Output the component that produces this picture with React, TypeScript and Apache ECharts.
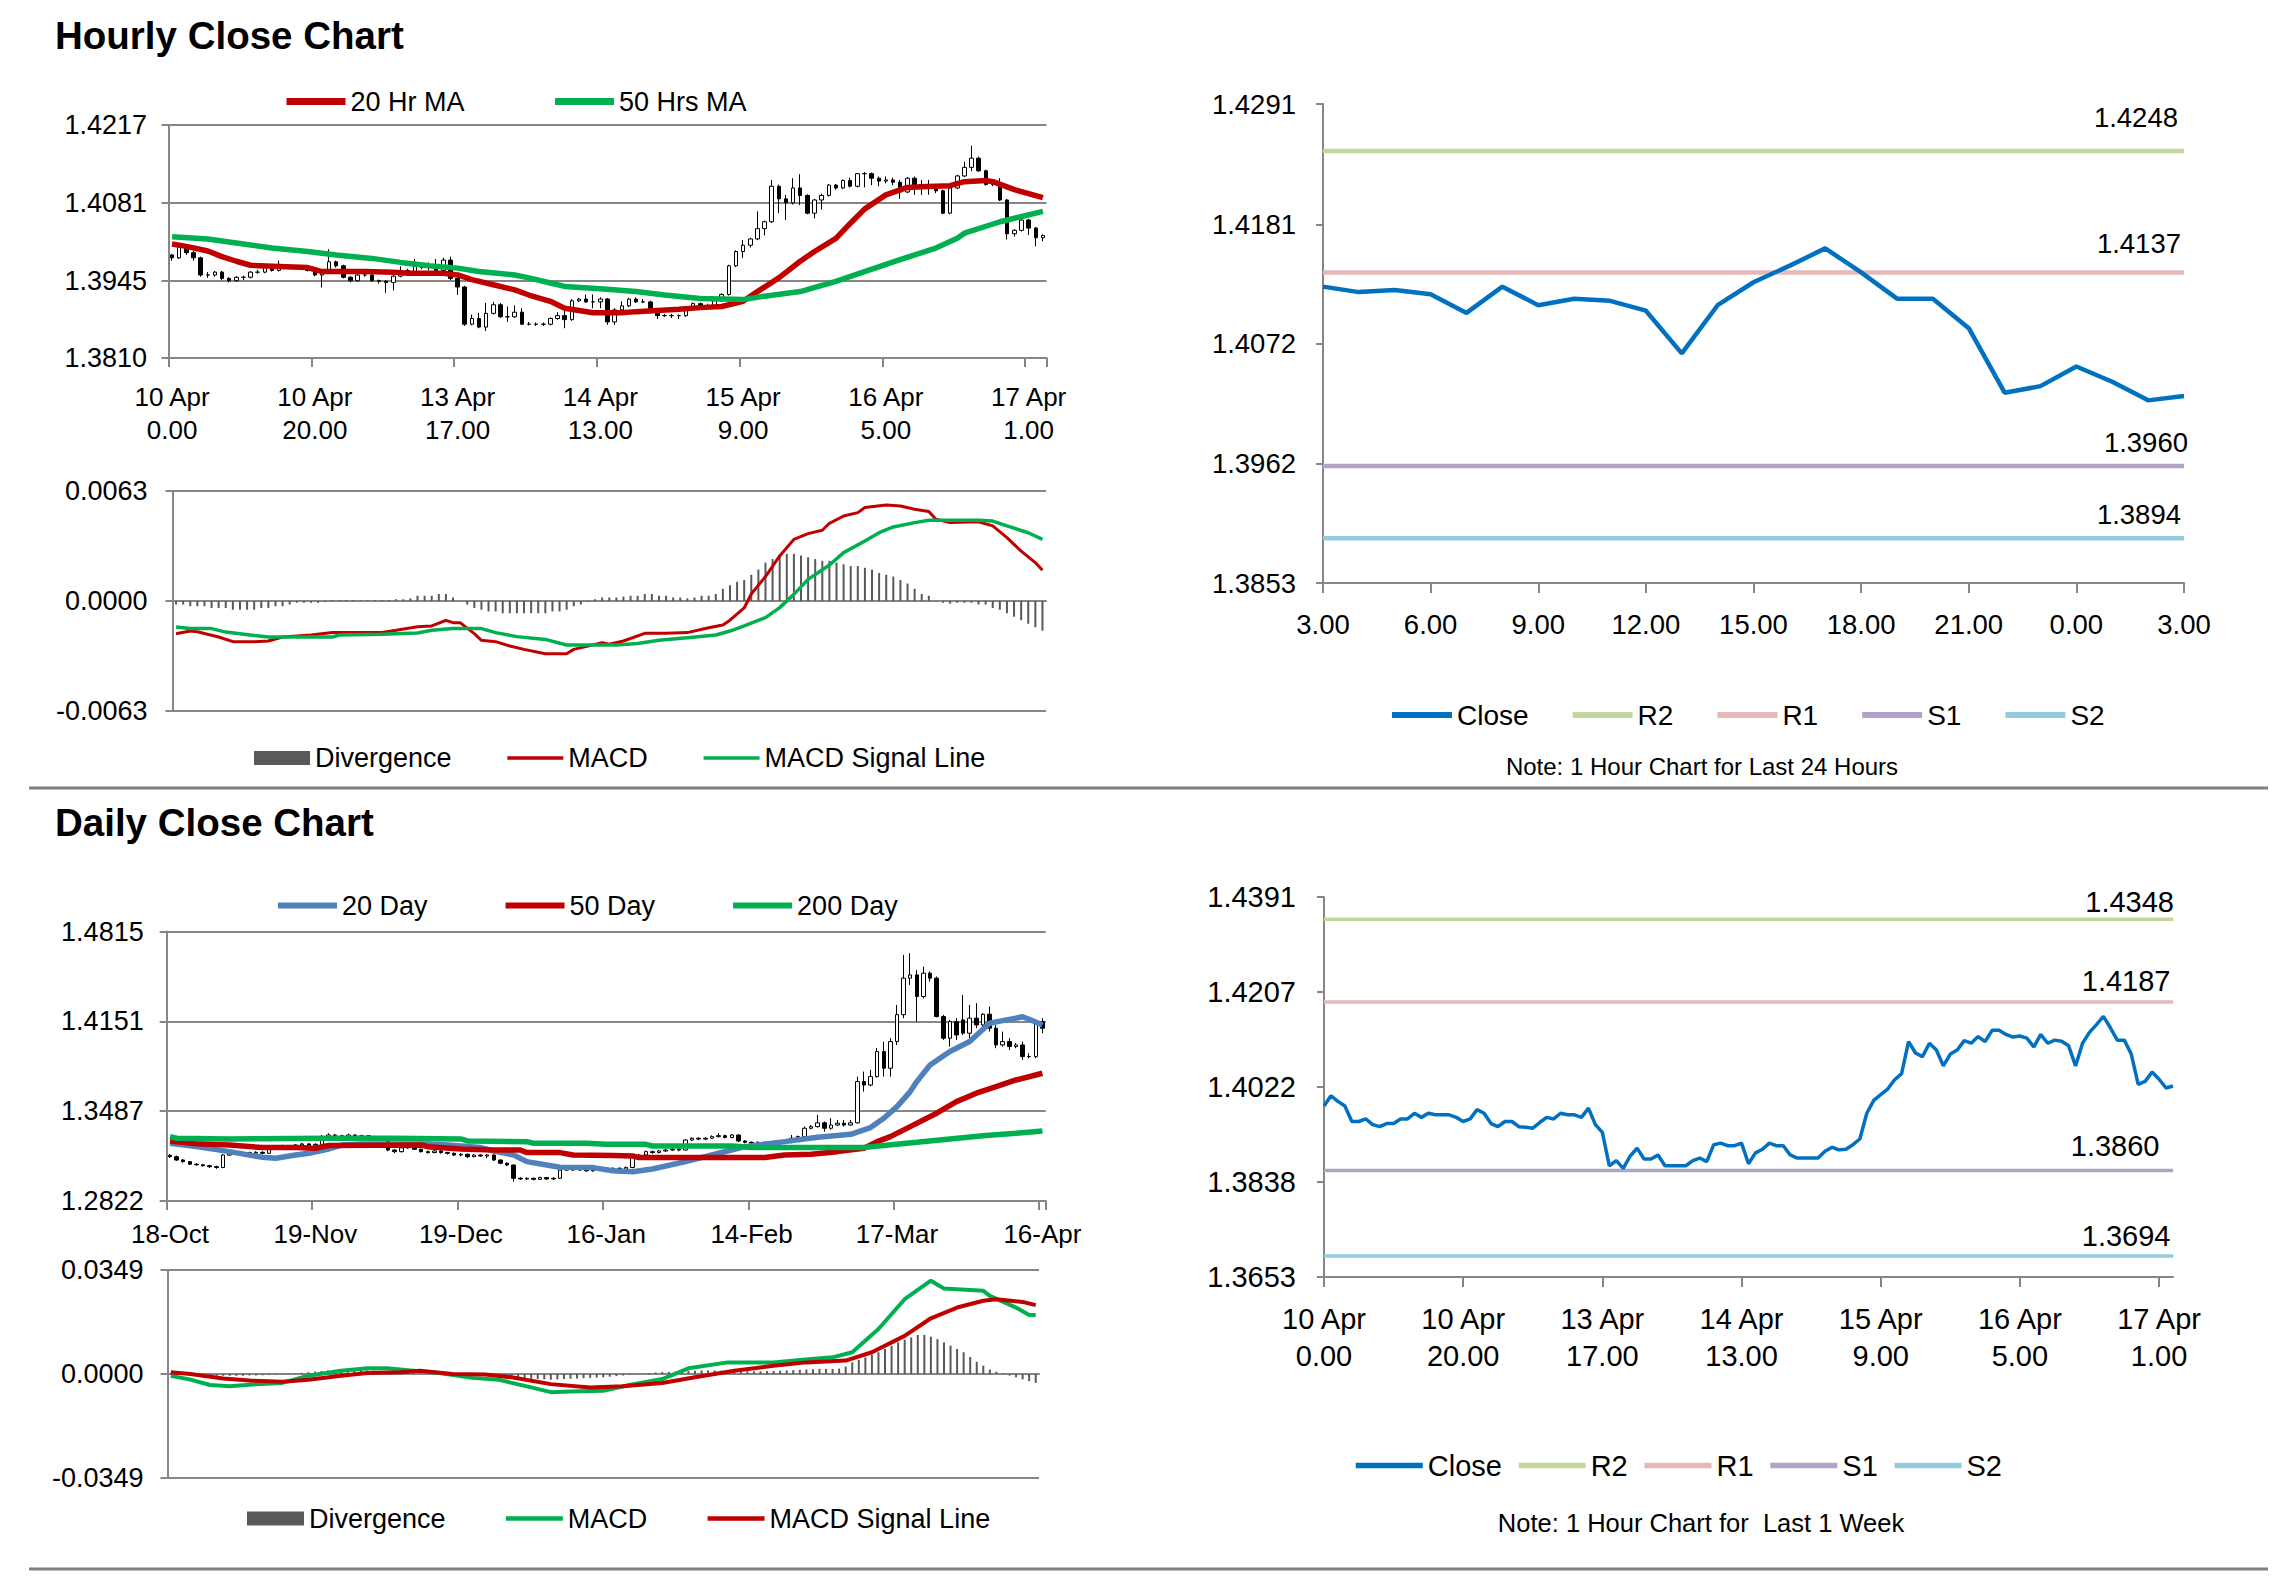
import React, { useEffect, useRef } from 'react';
import * as echarts from 'echarts';

const W = 2291;
const H = 1577;
const FONT = '"Liberation Sans", Arial, Helvetica, sans-serif';
const GRAY = '#868686';

// ---------------- Hourly data (10 Apr 0.00 .. 17 Apr 3.00) ----------------
const HOURLY_TICK_LABELS = ['10 Apr\n0.00', '10 Apr\n20.00', '13 Apr\n17.00', '14 Apr\n13.00', '15 Apr\n9.00', '16 Apr\n5.00', '17 Apr\n1.00'];

const HOURLY_CLOSE = [
  1.3985, 1.4005, 1.3994, 1.3985, 1.3955, 1.3955, 1.3960, 1.3949, 1.3945, 1.3951,
  1.3951, 1.3960, 1.3960, 1.3971, 1.3963, 1.3971, 1.3968, 1.3968, 1.3968, 1.3963,
  1.3955, 1.3960, 1.3978, 1.3971, 1.3951, 1.3945, 1.3955, 1.3955, 1.3945, 1.3944,
  1.3942, 1.3953, 1.3963, 1.3960, 1.3971, 1.3968, 1.3968, 1.3963, 1.3981, 1.3949,
  1.3934, 1.3869, 1.3879, 1.3864, 1.3888, 1.3903, 1.3882, 1.3882, 1.3890, 1.3869,
  1.3869, 1.3869, 1.3869, 1.3879, 1.3884, 1.3877, 1.3910, 1.3913, 1.3908, 1.3908,
  1.3913, 1.3873, 1.3894, 1.3901, 1.3913, 1.3908, 1.3908, 1.3890, 1.3884, 1.3884,
  1.3884, 1.3884, 1.3897, 1.3905, 1.3900, 1.3901, 1.3910, 1.3921, 1.3971, 1.3996,
  1.4007, 1.4018, 1.4036, 1.4048, 1.4110, 1.4088, 1.4081, 1.4107, 1.4094, 1.4063,
  1.4086, 1.4094, 1.4112, 1.4107, 1.4120, 1.4110, 1.4132, 1.4132, 1.4124, 1.4119,
  1.4121, 1.4117, 1.4100, 1.4124, 1.4107, 1.4113, 1.4111, 1.4102, 1.4063, 1.4107,
  1.4128, 1.4143, 1.4159, 1.4137, 1.4113, 1.4113, 1.4086, 1.4027, 1.4033, 1.4051,
  1.4037, 1.4020, 1.4024,
];

const HOURLY_OPEN = [
  1.3990, 1.3985, 1.4005, 1.3994, 1.3985, 1.3955, 1.3955, 1.3960, 1.3949, 1.3945,
  1.3951, 1.3951, 1.3960, 1.3960, 1.3971, 1.3963, 1.3971, 1.3968, 1.3968, 1.3968,
  1.3963, 1.3955, 1.3960, 1.3978, 1.3971, 1.3951, 1.3945, 1.3955, 1.3955, 1.3945,
  1.3944, 1.3942, 1.3953, 1.3963, 1.3960, 1.3971, 1.3968, 1.3968, 1.3963, 1.3981,
  1.3949, 1.3934, 1.3869, 1.3879, 1.3864, 1.3888, 1.3903, 1.3882, 1.3882, 1.3890,
  1.3869, 1.3869, 1.3869, 1.3869, 1.3879, 1.3884, 1.3877, 1.3910, 1.3913, 1.3908,
  1.3908, 1.3913, 1.3873, 1.3894, 1.3901, 1.3913, 1.3908, 1.3908, 1.3890, 1.3884,
  1.3884, 1.3884, 1.3884, 1.3897, 1.3905, 1.3900, 1.3901, 1.3910, 1.3921, 1.3971,
  1.3996, 1.4007, 1.4018, 1.4036, 1.4048, 1.4110, 1.4088, 1.4081, 1.4107, 1.4094,
  1.4063, 1.4086, 1.4094, 1.4112, 1.4107, 1.4120, 1.4110, 1.4132, 1.4132, 1.4124,
  1.4119, 1.4121, 1.4117, 1.4100, 1.4124, 1.4107, 1.4113, 1.4111, 1.4102, 1.4063,
  1.4107, 1.4128, 1.4143, 1.4159, 1.4137, 1.4113, 1.4113, 1.4086, 1.4027, 1.4033,
  1.4051, 1.4037, 1.4020,
];

const HOURLY_HIGH = [
  1.3992, 1.4008, 1.4008, 1.3997, 1.3987, 1.3960, 1.3962, 1.3962, 1.3951, 1.3953,
  1.3954, 1.3962, 1.3964, 1.3973, 1.3974, 1.3980, 1.3973, 1.3971, 1.3970, 1.3970,
  1.3965, 1.3962, 1.4000, 1.3980, 1.3973, 1.3953, 1.3957, 1.3958, 1.3957, 1.3947,
  1.3946, 1.3955, 1.3970, 1.3966, 1.3983, 1.3974, 1.3977, 1.3983, 1.3985, 1.3987,
  1.3951, 1.3936, 1.3886, 1.3889, 1.3906, 1.3908, 1.3906, 1.3900, 1.3902, 1.3897,
  1.3873, 1.3872, 1.3872, 1.3881, 1.3890, 1.3898, 1.3913, 1.3915, 1.3921, 1.3921,
  1.3916, 1.3915, 1.3897, 1.3909, 1.3915, 1.3916, 1.3913, 1.3910, 1.3892, 1.3887,
  1.3887, 1.3886, 1.3899, 1.3907, 1.3907, 1.3905, 1.3912, 1.3923, 1.3973, 1.3998,
  1.4016, 1.4020, 1.4066, 1.4050, 1.4121, 1.4113, 1.4095, 1.4124, 1.4131, 1.4096,
  1.4088, 1.4097, 1.4114, 1.4114, 1.4122, 1.4125, 1.4133, 1.4135, 1.4134, 1.4127,
  1.4127, 1.4125, 1.4121, 1.4126, 1.4127, 1.4121, 1.4121, 1.4112, 1.4104, 1.4109,
  1.4130, 1.4153, 1.4181, 1.4162, 1.4139, 1.4116, 1.4124, 1.4088, 1.4035, 1.4053,
  1.4053, 1.4039, 1.4026,
];

const HOURLY_LOW = [
  1.3980, 1.3983, 1.3990, 1.3980, 1.3952, 1.3950, 1.3952, 1.3946, 1.3942, 1.3943,
  1.3946, 1.3949, 1.3957, 1.3958, 1.3961, 1.3961, 1.3966, 1.3965, 1.3965, 1.3961,
  1.3953, 1.3933, 1.3958, 1.3968, 1.3949, 1.3942, 1.3943, 1.3952, 1.3943, 1.3940,
  1.3924, 1.3928, 1.3951, 1.3958, 1.3958, 1.3965, 1.3963, 1.3961, 1.3961, 1.3946,
  1.3920, 1.3866, 1.3867, 1.3862, 1.3857, 1.3886, 1.3880, 1.3873, 1.3880, 1.3868,
  1.3867, 1.3866, 1.3866, 1.3867, 1.3877, 1.3862, 1.3875, 1.3908, 1.3906, 1.3897,
  1.3897, 1.3868, 1.3868, 1.3892, 1.3899, 1.3906, 1.3906, 1.3888, 1.3878, 1.3882,
  1.3880, 1.3878, 1.3882, 1.3895, 1.3898, 1.3898, 1.3899, 1.3908, 1.3919, 1.3969,
  1.3985, 1.4003, 1.4016, 1.4024, 1.4046, 1.4063, 1.4051, 1.4078, 1.4077, 1.4061,
  1.4054, 1.4069, 1.4092, 1.4104, 1.4105, 1.4108, 1.4108, 1.4108, 1.4112, 1.4110,
  1.4115, 1.4112, 1.4088, 1.4098, 1.4095, 1.4095, 1.4095, 1.4098, 1.4061, 1.4061,
  1.4105, 1.4126, 1.4136, 1.4135, 1.4111, 1.4110, 1.4084, 1.4017, 1.4022, 1.4031,
  1.4025, 1.4005, 1.4014,
];

// [hour index, value]
const MA20_H = [[0, 1.4009], [2, 1.4005], [5, 1.3997], [7, 1.3987], [9, 1.3979], [11, 1.3972], [15, 1.3970], [19, 1.3968], [21, 1.3961], [27, 1.3961], [31, 1.3960], [33, 1.3958], [38, 1.3958], [40, 1.3955], [42, 1.3947], [45, 1.3938], [48, 1.3929], [50, 1.3920], [53, 1.3909], [55, 1.3897], [59, 1.3889], [63, 1.3889], [65, 1.3891], [71, 1.3895], [74, 1.3898], [77, 1.3900], [80, 1.3909], [82, 1.3926], [85, 1.3950], [88, 1.3979], [90, 1.3996], [93, 1.4019], [95, 1.4045], [97, 1.4070], [100, 1.4095], [103, 1.4108], [105, 1.4109], [109, 1.4111], [111, 1.4118], [114, 1.4120], [115, 1.4118], [118, 1.4104], [122, 1.4090]];
const MA50_H = [[0, 1.4022], [5, 1.4018], [9, 1.4011], [14, 1.4002], [19, 1.3996], [23, 1.3990], [28, 1.3984], [32, 1.3977], [36, 1.3971], [40, 1.3967], [43, 1.3961], [48, 1.3955], [50, 1.3950], [53, 1.3941], [55, 1.3935], [60, 1.3931], [65, 1.3926], [69, 1.3920], [74, 1.3914], [80, 1.3912], [83, 1.3918], [88, 1.3926], [93, 1.3944], [97, 1.3961], [102, 1.3982], [107, 1.4002], [110, 1.4019], [111, 1.4028], [116, 1.4048], [122, 1.4066]];

const MACD_H = [[0, -0.00187], [2, -0.00172], [3, -0.00176], [6, -0.00206], [8, -0.00233], [11, -0.00233], [13, -0.00229], [15, -0.00206], [19, -0.00195], [22, -0.00181], [29, -0.00181], [31, -0.00168], [34, -0.00147], [36, -0.00143], [38, -0.00111], [39, -0.00124], [40, -0.00124], [42, -0.00187], [43, -0.00225], [45, -0.00233], [47, -0.00258], [49, -0.00277], [52, -0.00302], [55, -0.00302], [56, -0.00277], [60, -0.00239], [61, -0.00248], [63, -0.00229], [66, -0.00185], [69, -0.00185], [72, -0.00181], [75, -0.00153], [77, -0.00137], [78, -0.0011], [80, -0.0004], [81, 0.0004], [83, 0.0014], [85, 0.00258], [87, 0.00353], [89, 0.00386], [91, 0.00405], [92, 0.00445], [94, 0.00487], [96, 0.00506], [97, 0.00535], [100, 0.0055], [102, 0.00544], [104, 0.00525], [106, 0.00512], [107, 0.00468], [109, 0.00449], [113, 0.00454], [115, 0.0043], [117, 0.00363], [119, 0.00286], [121, 0.0022], [122, 0.00176]];
const SIGNAL_H = [[0, -0.00149], [2, -0.00157], [5, -0.00158], [7, -0.00178], [11, -0.00197], [13, -0.00206], [22, -0.00206], [23, -0.00195], [29, -0.00191], [34, -0.00183], [36, -0.00168], [39, -0.00158], [43, -0.00158], [45, -0.00181], [48, -0.00204], [52, -0.0022], [55, -0.00252], [62, -0.00252], [65, -0.00244], [68, -0.00225], [72, -0.0021], [76, -0.00195], [78, -0.00172], [80, -0.00143], [83, -0.00095], [85, -0.00038], [87, 0.00038], [89, 0.00124], [92, 0.00206], [94, 0.00277], [97, 0.00344], [99, 0.00391], [101, 0.00424], [104, 0.00449], [106, 0.00462], [113, 0.00462], [115, 0.00458], [117, 0.0043], [120, 0.00391], [122, 0.00353]];
const DIV_H = [
  -0.0002, -0.0002, -0.0003, -0.0003, -0.0003, -0.0004, -0.0004, -0.0004, -0.0005, -0.0005,
  -0.0005, -0.0005, -0.0004, -0.0004, -0.0003, -0.0003, -0.0002, -0.0001, -0.0001, -0.0001,
  -0.0001, -0.00005, 0.00005, 0.00005, 0.00005, 0.00005, 0.00005, 0.00005, 0.00005, 0.00005,
  0.00005, 0.0001, 0.0001, 0.00015, 0.0003, 0.0003, 0.0003, 0.0004, 0.0004, 0.0002,
  0.0000, -0.0002, -0.0004, -0.0005, -0.0006, -0.0006, -0.0007, -0.0007, -0.0007, -0.0007,
  -0.0007, -0.0007, -0.0007, -0.0006, -0.0006, -0.0005, -0.0003, -0.0002, -0.00005, 0.0001,
  0.0002, 0.0002, 0.0002, 0.00025, 0.0003, 0.0003, 0.0004, 0.0004, 0.0003, 0.0003,
  0.0002, 0.0002, 0.00015, 0.0002, 0.0003, 0.0003, 0.0004, 0.0007, 0.0009, 0.0011,
  0.0012, 0.0015, 0.0018, 0.0022, 0.0024, 0.0026, 0.0027, 0.0027, 0.0026, 0.0025,
  0.0024, 0.0023, 0.0023, 0.0022, 0.0021, 0.0020, 0.0020, 0.0019, 0.0018, 0.0016,
  0.0015, 0.0014, 0.0012, 0.0010, 0.0007, 0.0004, 0.0003, -0.00003, -0.0001, -0.00015,
  -0.0001, -0.0001, -0.0001, -0.0002, -0.0002, -0.0004, -0.0005, -0.0007, -0.0009, -0.0011,
  -0.0013, -0.0015, -0.0017,
];

// last 24 hours start at hour index 98 (16 Apr 3.00)
const START_24H = 98;
const TICKS_24H = ['3.00', '6.00', '9.00', '12.00', '15.00', '18.00', '21.00', '0.00', '3.00'];

const LEVEL_NAMES = ['R2', 'R1', 'S1', 'S2'];
const LEVELS_24H = [1.4248, 1.4137, 1.3960, 1.3894];
const LEVELS_WEEK = [1.4348, 1.4187, 1.3860, 1.3694];

// ---------------- Daily data (18-Oct .. 16-Apr) ----------------
const DAILY_TICK_LABELS = ['18-Oct', '19-Nov', '19-Dec', '16-Jan', '14-Feb', '17-Mar', '16-Apr'];

const DAILY_CLOSE = [
  1.3150, 1.3125, 1.3113, 1.3094, 1.3090, 1.3083, 1.3076, 1.3070, 1.3162, 1.3175,
  1.3170, 1.3180, 1.3175, 1.3182, 1.3175, 1.3212, 1.3224, 1.3230, 1.3224, 1.3236,
  1.3244, 1.3236, 1.3241, 1.3298, 1.3310, 1.3305, 1.3298, 1.3310, 1.3298, 1.3305,
  1.3292, 1.3298, 1.3286, 1.3199, 1.3187, 1.3215, 1.3224, 1.3205, 1.3187, 1.3180,
  1.3192, 1.3180, 1.3175, 1.3162, 1.3168, 1.3150, 1.3162, 1.3155, 1.3162, 1.3125,
  1.3101, 1.3088, 1.2990, 1.2985, 1.2990, 1.2982, 1.2995, 1.2985, 1.2990, 1.3051,
  1.3058, 1.3051, 1.3058, 1.3045, 1.3051, 1.3064, 1.3058, 1.3064, 1.3058, 1.3070,
  1.3150, 1.3162, 1.3187, 1.3180, 1.3192, 1.3199, 1.3205, 1.3199, 1.3273, 1.3286,
  1.3280, 1.3286, 1.3298, 1.3305, 1.3292, 1.3310, 1.3266, 1.3256, 1.3249, 1.3256,
  1.3249, 1.3256, 1.3261, 1.3256, 1.3286, 1.3298, 1.3360, 1.3372, 1.3400, 1.3360,
  1.3384, 1.3397, 1.3384, 1.3400, 1.3705, 1.3680, 1.3742, 1.3927, 1.3804, 1.4001,
  1.4200, 1.4470, 1.4494, 1.4334, 1.4507, 1.4470, 1.4186, 1.4026, 1.4149, 1.4050,
  1.4063, 1.4174, 1.4124, 1.4203, 1.4100, 1.3976, 1.4001, 1.3964, 1.3976, 1.3890,
  1.3890, 1.4149, 1.4100,
];

const DAILY_OPEN = [
  1.3160, 1.3150, 1.3125, 1.3113, 1.3094, 1.3090, 1.3083, 1.3076, 1.3070, 1.3162,
  1.3175, 1.3170, 1.3180, 1.3175, 1.3182, 1.3175, 1.3212, 1.3224, 1.3230, 1.3224,
  1.3236, 1.3244, 1.3236, 1.3241, 1.3298, 1.3310, 1.3305, 1.3298, 1.3310, 1.3298,
  1.3305, 1.3292, 1.3298, 1.3286, 1.3199, 1.3187, 1.3215, 1.3224, 1.3205, 1.3187,
  1.3180, 1.3192, 1.3180, 1.3175, 1.3162, 1.3168, 1.3150, 1.3162, 1.3155, 1.3162,
  1.3125, 1.3101, 1.3088, 1.2990, 1.2985, 1.2990, 1.2982, 1.2995, 1.2985, 1.2990,
  1.3051, 1.3058, 1.3051, 1.3058, 1.3045, 1.3051, 1.3064, 1.3058, 1.3064, 1.3058,
  1.3070, 1.3150, 1.3162, 1.3187, 1.3180, 1.3192, 1.3199, 1.3205, 1.3199, 1.3273,
  1.3286, 1.3280, 1.3286, 1.3298, 1.3305, 1.3292, 1.3310, 1.3266, 1.3256, 1.3249,
  1.3256, 1.3249, 1.3256, 1.3261, 1.3256, 1.3286, 1.3298, 1.3360, 1.3372, 1.3400,
  1.3360, 1.3384, 1.3397, 1.3384, 1.3400, 1.3705, 1.3680, 1.3742, 1.3927, 1.3804,
  1.4001, 1.4200, 1.4470, 1.4494, 1.4334, 1.4507, 1.4470, 1.4186, 1.4026, 1.4149,
  1.4161, 1.4063, 1.4174, 1.4124, 1.4203, 1.4100, 1.3976, 1.4001, 1.3964, 1.3976,
  1.3890, 1.3890, 1.4149,
];

const DAILY_HIGH = [
  1.3170, 1.3158, 1.3132, 1.3118, 1.3101, 1.3096, 1.3090, 1.3083, 1.3170, 1.3182,
  1.3182, 1.3187, 1.3187, 1.3190, 1.3190, 1.3218, 1.3230, 1.3238, 1.3236, 1.3244,
  1.3252, 1.3250, 1.3249, 1.3310, 1.3323, 1.3318, 1.3312, 1.3320, 1.3315, 1.3312,
  1.3310, 1.3305, 1.3302, 1.3290, 1.3205, 1.3222, 1.3232, 1.3230, 1.3210, 1.3195,
  1.3199, 1.3198, 1.3186, 1.3180, 1.3175, 1.3172, 1.3168, 1.3168, 1.3170, 1.3168,
  1.3130, 1.3108, 1.3092, 1.2998, 1.2996, 1.2995, 1.3002, 1.3000, 1.2998, 1.3058,
  1.3066, 1.3064, 1.3066, 1.3064, 1.3058, 1.3070, 1.3070, 1.3071, 1.3070, 1.3077,
  1.3162, 1.3170, 1.3195, 1.3195, 1.3199, 1.3207, 1.3212, 1.3212, 1.3280, 1.3293,
  1.3292, 1.3294, 1.3308, 1.3323, 1.3312, 1.3318, 1.3314, 1.3272, 1.3262, 1.3263,
  1.3262, 1.3264, 1.3270, 1.3268, 1.3310, 1.3305, 1.3372, 1.3384, 1.3458, 1.3410,
  1.3434, 1.3421, 1.3421, 1.3421, 1.3742, 1.3779, 1.3791, 1.3952, 1.4001, 1.4026,
  1.4272, 1.4642, 1.4655, 1.4530, 1.4556, 1.4519, 1.4482, 1.4198, 1.4161, 1.4174,
  1.4346, 1.4272, 1.4285, 1.4211, 1.4260, 1.4124, 1.4075, 1.4026, 1.3989, 1.4001,
  1.3915, 1.4161, 1.4174,
];

const DAILY_LOW = [
  1.3140, 1.3118, 1.3105, 1.3088, 1.3083, 1.3076, 1.3066, 1.3060, 1.3065, 1.3155,
  1.3163, 1.3165, 1.3168, 1.3170, 1.3168, 1.3170, 1.3205, 1.3218, 1.3215, 1.3218,
  1.3230, 1.3228, 1.3230, 1.3236, 1.3292, 1.3296, 1.3290, 1.3292, 1.3290, 1.3290,
  1.3284, 1.3286, 1.3278, 1.3190, 1.3175, 1.3180, 1.3208, 1.3198, 1.3180, 1.3172,
  1.3175, 1.3172, 1.3166, 1.3155, 1.3152, 1.3140, 1.3145, 1.3148, 1.3138, 1.3118,
  1.3094, 1.3080, 1.2965, 1.2978, 1.2978, 1.2975, 1.2978, 1.2978, 1.2978, 1.2985,
  1.3045, 1.3044, 1.3045, 1.3038, 1.3039, 1.3045, 1.3050, 1.3052, 1.3050, 1.3052,
  1.3064, 1.3143, 1.3155, 1.3172, 1.3174, 1.3185, 1.3192, 1.3190, 1.3195, 1.3266,
  1.3272, 1.3274, 1.3280, 1.3292, 1.3285, 1.3286, 1.3258, 1.3248, 1.3240, 1.3242,
  1.3241, 1.3243, 1.3249, 1.3248, 1.3249, 1.3280, 1.3292, 1.3352, 1.3365, 1.3335,
  1.3350, 1.3375, 1.3372, 1.3378, 1.3395, 1.3631, 1.3670, 1.3735, 1.3742, 1.3742,
  1.3976, 1.4174, 1.4420, 1.4149, 1.4320, 1.4445, 1.4180, 1.4013, 1.3964, 1.4013,
  1.4050, 1.4026, 1.4100, 1.4100, 1.4075, 1.3952, 1.3964, 1.3939, 1.3952, 1.3865,
  1.3878, 1.3878, 1.4063,
];

// [day index, value]
const MA20_D = [[0, 1.3249], [4, 1.3224], [9, 1.3187], [14, 1.3145], [16, 1.3138], [19, 1.3162], [21, 1.3175], [24, 1.3207], [26, 1.3236], [29, 1.3244], [39, 1.3244], [42, 1.3236], [47, 1.3217], [49, 1.3192], [52, 1.3162], [54, 1.3113], [57, 1.3088], [59, 1.3071], [64, 1.3069], [67, 1.3046], [70, 1.3039], [73, 1.3059], [78, 1.3113], [83, 1.3175], [87, 1.3224], [93, 1.3261], [98, 1.3293], [103, 1.3315], [106, 1.3365], [108, 1.3434], [110, 1.3520], [112, 1.3631], [113, 1.3705], [115, 1.3828], [118, 1.3927], [121, 1.4001], [124, 1.4137], [126, 1.4156], [129, 1.4184], [130, 1.4166], [132, 1.4124]];
const MA50_D = [[0, 1.3266], [4, 1.3246], [9, 1.3236], [14, 1.3217], [19, 1.3217], [22, 1.3212], [24, 1.3232], [38, 1.3236], [39, 1.3224], [44, 1.3207], [49, 1.3199], [53, 1.3199], [54, 1.3180], [59, 1.3180], [61, 1.3162], [67, 1.3158], [70, 1.3155], [71, 1.3143], [90, 1.3143], [93, 1.3162], [97, 1.3167], [101, 1.3187], [105, 1.3212], [107, 1.3261], [109, 1.3298], [112, 1.3372], [116, 1.3471], [119, 1.3557], [122, 1.3619], [125, 1.3668], [128, 1.3717], [132, 1.3767]];
const MA200_D = [[0, 1.3298], [1, 1.3286], [9, 1.3281], [24, 1.3286], [34, 1.3286], [44, 1.3281], [45, 1.3266], [54, 1.3261], [55, 1.3249], [63, 1.3249], [66, 1.3241], [72, 1.3241], [73, 1.3229], [85, 1.3229], [88, 1.3217], [105, 1.3217], [108, 1.3232], [113, 1.3256], [118, 1.3281], [123, 1.3305], [128, 1.3323], [132, 1.3340]];

const MACD_D = [[0, -0.0006], [3, -0.0019], [6, -0.0037], [9, -0.0041], [13, -0.0034], [17, -0.0030], [21, -0.0006], [26, 0.0011], [30, 0.0019], [33, 0.0019], [37, 0.0011], [41, 0.0003], [46, -0.0013], [50, -0.0019], [55, -0.0045], [58, -0.0061], [61, -0.0059], [66, -0.0056], [70, -0.0037], [75, -0.0017], [79, 0.0019], [85, 0.0039], [92, 0.0039], [96, 0.0047], [101, 0.0056], [104, 0.0073], [108, 0.0151], [112, 0.0251], [116, 0.0313], [118, 0.0287], [124, 0.0279], [125, 0.0262], [129, 0.0223], [131, 0.0198], [132, 0.0198]];
const SIGNAL_D = [[0, 0.0006], [3, 0.0000], [8, -0.0015], [12, -0.0022], [17, -0.0026], [21, -0.0019], [26, -0.0006], [30, 0.0003], [35, 0.0006], [38, 0.0011], [43, 0.0000], [48, -0.0002], [52, -0.0011], [58, -0.0034], [64, -0.0045], [69, -0.0041], [75, -0.0030], [80, -0.0011], [86, 0.0011], [92, 0.0028], [97, 0.0039], [103, 0.0045], [107, 0.0073], [112, 0.0128], [116, 0.0187], [120, 0.0223], [124, 0.0246], [126, 0.0251], [130, 0.0242], [132, 0.0231]];
const DIV_D = [
  -0.0002, -0.0003, -0.0003, -0.0004, -0.0004, -0.0005, -0.0005, -0.0006, -0.0006, -0.0006,
  -0.0006, -0.0006, -0.0005, -0.0005, -0.0004, -0.0003, -0.0002, -0.0001, 0.0001, 0.0002,
  0.0004, 0.0006, 0.0008, 0.0010, 0.0012, 0.0014, 0.0016, 0.0015, 0.0014, 0.0013,
  0.0012, 0.0011, 0.0010, 0.0009, 0.0007, 0.0005, 0.0004, 0.0003, 0.0002, 0.0002,
  0.0001, 0.0000, -0.0001, -0.0002, -0.0003, -0.0003, -0.0004, -0.0004, -0.0005, -0.0006,
  -0.0008, -0.0010, -0.0012, -0.0013, -0.0015, -0.0016, -0.0017, -0.0018, -0.0019, -0.0018,
  -0.0017, -0.0016, -0.0015, -0.0014, -0.0013, -0.0012, -0.0011, -0.0009, -0.0007, -0.0005,
  -0.0003, -0.0001, 0.0001, 0.0003, 0.0005, 0.0006, 0.0007, 0.0008, 0.0009, 0.0010,
  0.0011, 0.0012, 0.0012, 0.0012, 0.0011, 0.0011, 0.0010, 0.0010, 0.0009, 0.0009,
  0.0009, 0.0010, 0.0010, 0.0011, 0.0012, 0.0013, 0.0014, 0.0015, 0.0016, 0.0017,
  0.0017, 0.0017, 0.0018, 0.0025, 0.0039, 0.0047, 0.0056, 0.0065, 0.0073, 0.0084,
  0.0095, 0.0106, 0.0115, 0.0123, 0.0131, 0.0131, 0.0125, 0.0117, 0.0106, 0.0095,
  0.0084, 0.0073, 0.0057, 0.0041, 0.0028, 0.0015, 0.0008, 0.0003, -0.0005, -0.0011,
  -0.0018, -0.0024, -0.0030,
];

// ---------------- Axis tick values ----------------
const Y_TICKS_H = [1.3810, 1.3945, 1.4081, 1.4217];
const Y_TICKS_HM = [-0.0063, 0, 0.0063];
const Y_TICKS_24 = [1.3853, 1.3962, 1.4072, 1.4181, 1.4291];
const Y_TICKS_D = [1.2822, 1.3487, 1.4151, 1.4815];
const Y_TICKS_DM = [-0.0349, 0, 0.0349];
const Y_TICKS_W = [1.3653, 1.3838, 1.4022, 1.4207, 1.4391];

// ---------------- Styles ----------------
const C_RED = '#C00000';
const C_GREEN = '#00B050';
const C_BLUE_MA = '#4F81BD';
const C_CLOSE = '#0070C0';
const C_DIV = '#595959';
const LEVEL_COLORS = ['#C3D69B', '#E6B9B8', '#B3A2C7', '#93CDDD'];
const LABEL_DIST_24H = [19, 14, 9, 9.5];
const LABEL_DX_24H = [-6, -3, 4, -3];
const LABEL_DIST_W = [2.5, 6.5, 9, 5];
const LABEL_DX_W = [1, -2.5, -13.5, -2.5];

const strip = (name: string) => name.slice(2);

function buildOption() {
  const hourlyCats = HOURLY_CLOSE.map((_, i) => 'h' + i);
  const dailyCats = DAILY_CLOSE.map((_, i) => 'd' + i);
  const cats24 = hourlyCats.slice(START_24H);
  const close24 = HOURLY_CLOSE.slice(START_24H);

  const axisLine = { show: true, onZero: false, lineStyle: { color: GRAY, width: 2 } };
  const tickLine = { color: GRAY, width: 2 };

  const yAxis = (gridIndex: number, ticks: number[], fontSize: number, margin: number, grid: boolean) => ({
    type: 'value',
    gridIndex,
    min: ticks[0],
    max: ticks[ticks.length - 1],
    axisLine: { show: true, lineStyle: { color: GRAY, width: 2 } },
    axisTick: { show: true, customValues: ticks, length: 7, lineStyle: tickLine },
    axisLabel: { customValues: ticks, formatter: (v: number) => v.toFixed(4), fontSize, margin, color: '#000', fontFamily: FONT },
    splitLine: { show: grid, lineStyle: { color: GRAY, width: 2 } },
  });

  const levelSeries = (prefix: string, idx: number, value: number, lastIdx: number, axis: number, width: number, fontSize: number, dist: number, dx: number) => ({
    type: 'line',
    name: prefix + LEVEL_NAMES[idx],
    xAxisIndex: axis,
    yAxisIndex: axis,
    data: [
      [0, value],
      {
        value: [lastIdx, value],
        label: {
          show: true,
          position: 'top',
          distance: dist,
          align: 'right',
          offset: [dx, 0],
          fontSize,
          color: '#000',
          fontFamily: FONT,
          formatter: () => value.toFixed(4),
        },
      },
    ],
    symbol: 'circle',
    symbolSize: 1,
    showSymbol: true,
    lineStyle: { color: LEVEL_COLORS[idx], width },
    itemStyle: { color: LEVEL_COLORS[idx] },
    silent: true,
  });

  const lineS = (name: string, axis: number, data: any, color: string, width: number) => ({
    type: 'line',
    name,
    xAxisIndex: axis,
    yAxisIndex: axis,
    data,
    symbol: 'none',
    lineStyle: { color, width },
    itemStyle: { color },
    silent: true,
  });

  const legendBase = (fontSize: number) => ({
    orient: 'horizontal',
    padding: 0,
    selectedMode: false,
    formatter: strip,
    textStyle: { fontSize, color: '#000', fontFamily: FONT },
    itemStyle: { opacity: 0 },
  });

  const graphic: any[] = [
    { type: 'text', x: 55, y: 35, style: { text: 'Hourly Close Chart', fontSize: 38.5, fontWeight: 'bold', fontFamily: FONT, fill: '#000', align: 'left', verticalAlign: 'middle' } },
    { type: 'text', x: 55, y: 822, style: { text: 'Daily Close Chart', fontSize: 38.5, fontWeight: 'bold', fontFamily: FONT, fill: '#000', align: 'left', verticalAlign: 'middle' } },
    { type: 'text', x: 1702, y: 766, style: { text: 'Note: 1 Hour Chart for Last 24 Hours', fontSize: 24, fontFamily: FONT, fill: '#000', align: 'center', verticalAlign: 'middle' } },
    { type: 'text', x: 1701, y: 1523, style: { text: 'Note: 1 Hour Chart for  Last 1 Week', fontSize: 25.5, fontFamily: FONT, fill: '#000', align: 'center', verticalAlign: 'middle' } },
    { type: 'line', shape: { x1: 29, y1: 788, x2: 2268, y2: 788 }, style: { stroke: '#808080', lineWidth: 3 } },
    { type: 'line', shape: { x1: 29, y1: 1569, x2: 2268, y2: 1569 }, style: { stroke: '#808080', lineWidth: 3 } },
  ];

  return {
    animation: false,
    backgroundColor: '#fff',
    textStyle: { fontFamily: FONT, color: '#000' },
    graphic,
    grid: [
      { left: 168.5, top: 125, width: 878, height: 233, containLabel: false, outerBoundsMode: 'none' },
      { left: 172.5, top: 491, width: 873.5, height: 220, containLabel: false, outerBoundsMode: 'none' },
      { left: 1323, top: 104, width: 861, height: 479, containLabel: false, outerBoundsMode: 'none' },
      { left: 166.7, top: 931.5, width: 879, height: 269.5, containLabel: false, outerBoundsMode: 'none' },
      { left: 167.5, top: 1270, width: 871.5, height: 208, containLabel: false, outerBoundsMode: 'none' },
      { left: 1324, top: 897, width: 849, height: 380, containLabel: false, outerBoundsMode: 'none' },
    ],
    xAxis: [
      {
        type: 'category', gridIndex: 0, data: hourlyCats, boundaryGap: true,
        axisLine,
        axisTick: { show: true, interval: 19, length: 9, lineStyle: tickLine },
        axisLabel: { interval: 19, formatter: (_v: string, i: number) => HOURLY_TICK_LABELS[i / 20], fontSize: 26, lineHeight: 33, margin: 22, color: '#000', fontFamily: FONT },
        splitLine: { show: false },
      },
      {
        type: 'category', gridIndex: 1, data: hourlyCats, boundaryGap: true,
        axisLine: { show: true, onZero: true, lineStyle: { color: GRAY, width: 2 } },
        axisTick: { show: false }, axisLabel: { show: false }, splitLine: { show: false },
      },
      {
        type: 'category', gridIndex: 2, data: cats24, boundaryGap: false,
        axisLine,
        axisTick: { show: true, alignWithLabel: true, interval: 2, length: 10, lineStyle: tickLine },
        axisLabel: { interval: 2, formatter: (_v: string, i: number) => TICKS_24H[i / 3], fontSize: 27.5, margin: 27.5, color: '#000', fontFamily: FONT },
        splitLine: { show: false },
      },
      {
        type: 'category', gridIndex: 3, data: dailyCats, boundaryGap: true,
        axisLine,
        axisTick: { show: true, interval: 21, length: 9, lineStyle: tickLine },
        axisLabel: { interval: 21, formatter: (_v: string, i: number) => DAILY_TICK_LABELS[i / 22], fontSize: 26, margin: 20, color: '#000', fontFamily: FONT },
        splitLine: { show: false },
      },
      {
        type: 'category', gridIndex: 4, data: dailyCats, boundaryGap: true,
        axisLine: { show: true, onZero: true, lineStyle: { color: GRAY, width: 2 } },
        axisTick: { show: false }, axisLabel: { show: false }, splitLine: { show: false },
      },
      {
        type: 'category', gridIndex: 5, data: hourlyCats, boundaryGap: false,
        axisLine,
        axisTick: { show: true, alignWithLabel: true, interval: 19, length: 10, lineStyle: tickLine },
        axisLabel: { interval: 19, formatter: (_v: string, i: number) => HOURLY_TICK_LABELS[i / 20], fontSize: 29, lineHeight: 37, margin: 23, color: '#000', fontFamily: FONT },
        splitLine: { show: false },
      },
    ],
    yAxis: [
      yAxis(0, Y_TICKS_H, 27, 21.5, true),
      yAxis(1, Y_TICKS_HM, 27, 25, true),
      yAxis(2, Y_TICKS_24, 27.5, 27, false),
      yAxis(3, Y_TICKS_D, 27, 23, true),
      yAxis(4, Y_TICKS_DM, 27, 24, true),
      yAxis(5, Y_TICKS_W, 29, 28, false),
    ],
    legend: [
      { ...legendBase(27), data: ['h:20 Hr MA', 'h:50 Hrs MA'], left: 283, top: 88, itemWidth: 59, itemHeight: 14, itemGap: 87, lineStyle: { width: 7 } },
      { ...legendBase(27), data: [{ name: 'm:Divergence', icon: 'rect', itemStyle: { opacity: 1 } }, 'm:MACD', 'm:MACD Signal Line'], left: 254, top: 744.5, itemWidth: 56, itemHeight: 14, itemGap: 54, lineStyle: { width: 3.5 } },
      { ...legendBase(28), data: ['r:Close', 'r:R2', 'r:R1', 'r:S1', 'r:S2'], left: 1389, top: 701, itemWidth: 60, itemHeight: 14, itemGap: 41, lineStyle: { width: 6 } },
      { ...legendBase(27), data: ['d:20 Day', 'd:50 Day', 'd:200 Day'], left: 275, top: 892, itemWidth: 59, itemHeight: 14, itemGap: 75, lineStyle: { width: 6 } },
      { ...legendBase(27), data: [{ name: 'n:Divergence', icon: 'rect', itemStyle: { opacity: 1 } }, 'n:MACD', 'n:MACD Signal Line'], left: 247, top: 1505, itemWidth: 57, itemHeight: 14, itemGap: 58, lineStyle: { width: 4.5 } },
      { ...legendBase(29), data: ['w:Close', 'w:R2', 'w:R1', 'w:S1', 'w:S2'], left: 1353, top: 1451, itemWidth: 67, itemHeight: 14, itemGap: 14, lineStyle: { width: 5.5 } },
    ],
    series: [
      // Hourly candles + MAs
      {
        type: 'candlestick', name: 'h:Price', xAxisIndex: 0, yAxisIndex: 0,
        data: HOURLY_OPEN.map((o, i) => [o, HOURLY_CLOSE[i], HOURLY_LOW[i], HOURLY_HIGH[i]]),
        barWidth: 4,
        itemStyle: { color: '#ffffff', color0: '#000000', borderColor: '#000000', borderColor0: '#000000', borderWidth: 1 },
        silent: true,
      },
      lineS('h:20 Hr MA', 0, MA20_H, C_RED, 5.5),
      lineS('h:50 Hrs MA', 0, MA50_H, C_GREEN, 5.5),
      // Hourly MACD
      { type: 'bar', name: 'm:Divergence', xAxisIndex: 1, yAxisIndex: 1, data: DIV_H, barWidth: 2, itemStyle: { color: C_DIV }, silent: true },
      lineS('m:MACD', 1, MACD_H, C_RED, 3),
      lineS('m:MACD Signal Line', 1, SIGNAL_H, C_GREEN, 3.5),
      // Last 24 hours
      ...LEVELS_24H.map((v, k) => levelSeries('r:', k, v, close24.length - 1, 2, 4.5, 27.5, LABEL_DIST_24H[k], LABEL_DX_24H[k])),
      lineS('r:Close', 2, close24, C_CLOSE, 4.5),
      // Daily candles + MAs
      {
        type: 'candlestick', name: 'd:Price', xAxisIndex: 3, yAxisIndex: 3,
        data: DAILY_OPEN.map((o, i) => [o, DAILY_CLOSE[i], DAILY_LOW[i], DAILY_HIGH[i]]),
        barWidth: 4,
        itemStyle: { color: '#ffffff', color0: '#000000', borderColor: '#000000', borderColor0: '#000000', borderWidth: 1 },
        silent: true,
      },
      lineS('d:20 Day', 3, MA20_D, C_BLUE_MA, 5.5),
      lineS('d:50 Day', 3, MA50_D, C_RED, 5.5),
      lineS('d:200 Day', 3, MA200_D, C_GREEN, 5.5),
      // Daily MACD
      { type: 'bar', name: 'n:Divergence', xAxisIndex: 4, yAxisIndex: 4, data: DIV_D, barWidth: 2, itemStyle: { color: C_DIV }, silent: true },
      lineS('n:MACD', 4, MACD_D, C_GREEN, 4),
      lineS('n:MACD Signal Line', 4, SIGNAL_D, C_RED, 4),
      // Last week
      ...LEVELS_WEEK.map((v, k) => levelSeries('w:', k, v, HOURLY_CLOSE.length - 1, 5, 3.5, 29, LABEL_DIST_W[k], LABEL_DX_W[k])),
      lineS('w:Close', 5, HOURLY_CLOSE, C_CLOSE, 3.5),
    ],
  };
}

export default function App() {
  const ref = useRef<HTMLDivElement>(null);
  useEffect(() => {
    if (!ref.current) return;
    const chart = echarts.init(ref.current, null, { renderer: 'svg', width: W, height: H });
    chart.setOption(buildOption() as any);
    return () => {
      chart.dispose();
    };
  }, []);
  return <div ref={ref} style={{ position: 'absolute', left: 0, top: 0, width: W, height: H, background: '#fff' }} />;
}
